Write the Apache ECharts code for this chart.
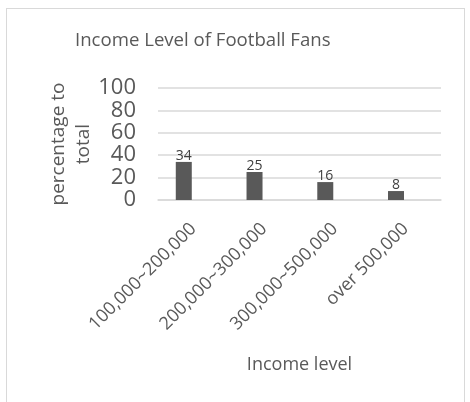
<!DOCTYPE html>
<html>
<head>
<meta charset="utf-8">
<title>Income Level of Football Fans</title>
<script src="https://cdn.jsdelivr.net/npm/echarts@6.0.0/dist/echarts.min.js"></script>
<style>
  html, body { margin: 0; padding: 0; background: #fff; }
  #chart { position: absolute; left: 0; top: 0; width: 470px; height: 402px; }
  /* outer chart frame, runs off the bottom like the screenshot */
  .frame {
    position: absolute; left: 6px; top: 8px; width: 457px; height: 420px;
    border: 1px solid #d9d9d9; pointer-events: none;
  }
</style>
</head>
<body>
<div id="chart"></div>
<div class="frame"></div>
<script>
// data
const incomeLevels = ['100,000~200,000', '200,000~300,000', '300,000~500,000', 'over 500,000']
const fanShare = [34, 25, 16, 8]
// the source sheet had an empty second column, which pushes the bars left of centre
const emptyColumn = [null, null, null, null]
const yTicks = [0, 20, 40, 60, 80, 100]

const font = 'Open Sans'
const grey = '#595959'

let chart = echarts.init(document.getElementById('chart'))

chart.setOption({
  animation: false,
  textStyle: { fontFamily: font },
  title: {
    text: 'Income Level of Football Fans',
    left: 70,
    top: 26,
    textStyle: {
      color: grey,
      fontSize: 18.6,
      fontWeight: 'normal',
      fontFamily: font,
    },
  },
  grid: {
    left: 158,
    right: 29,
    top: 88,
    bottom: 202,
    containLabel: false,
  },
  xAxis: {
    type: 'category',
    data: incomeLevels,
    name: 'Income level',
    nameLocation: 'middle',
    nameGap: 156,
    nameMoveOverlap: false,
    nameTextStyle: { color: grey, fontSize: 18, fontFamily: font },
    axisLine: { lineStyle: { color: '#d9d9d9', width: 1.5 } },
    axisTick: { show: false },
    axisLabel: {
      rotate: 45,
      margin: 26,
      color: grey,
      fontSize: 18,
      fontFamily: font,
      interval: 0,
    },
  },
  yAxis: {
    type: 'value',
    min: yTicks[0],
    max: yTicks[yTicks.length - 1],
    interval: yTicks[1] - yTicks[0],
    name: 'percentage to\ntotal',
    nameLocation: 'middle',
    nameRotate: 90,
    nameGap: 62,
    nameMoveOverlap: false,
    nameTextStyle: { color: grey, fontSize: 19, lineHeight: 25, fontFamily: font },
    axisLine: { show: false },
    axisTick: { show: false },
    axisLabel: { color: grey, fontSize: 22, margin: 22, fontFamily: font },
    splitLine: { lineStyle: { color: '#d9d9d9', width: 1.5 } },
  },
  series: [
    {
      name: 'percentage to total',
      type: 'bar',
      data: fanShare,
      barWidth: 16,
      barGap: '20%',
      itemStyle: { color: grey },
      label: {
        show: true,
        position: 'top',
        distance: -1,
        color: '#404040',
        fontSize: 14,
        fontFamily: font,
      },
    },
    {
      name: 'empty',
      type: 'bar',
      data: emptyColumn,
      barWidth: 16,
      itemStyle: { color: grey },
    },
  ],
})
</script>
</body>
</html>
